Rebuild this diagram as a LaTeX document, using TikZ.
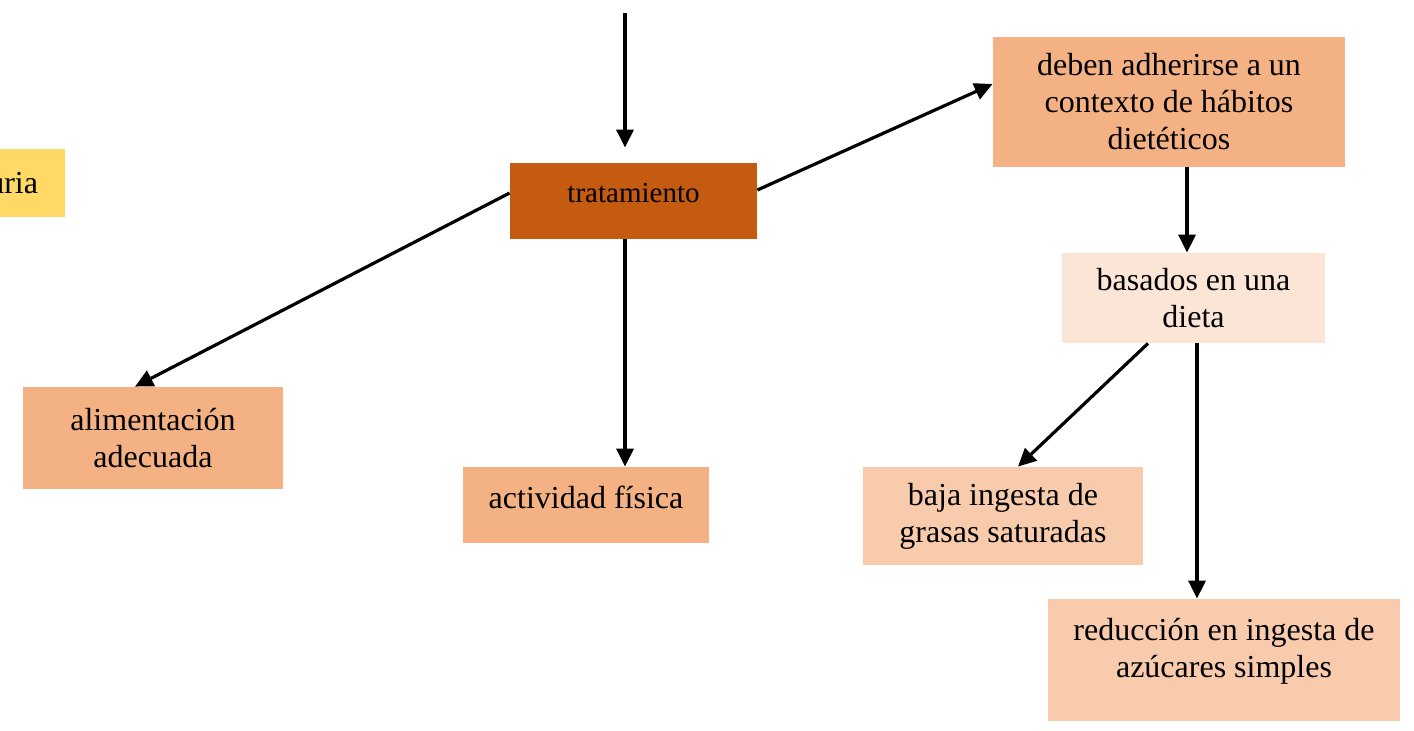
\documentclass[tikz,border=0pt]{standalone}
\usepackage{fontspec}
\setmainfont{Liberation Serif}
\usetikzlibrary{arrows.meta}

\definecolor{oscuro}{HTML}{C55A11}
\definecolor{medio}{HTML}{F4B183}
\definecolor{claro}{HTML}{F8CBAD}
\definecolor{palido}{HTML}{FBE5D6}
\definecolor{amarillo}{HTML}{FFD966}

\tikzset{
  caja/.style={rectangle, inner sep=0pt, align=center,
    font=\fontsize{16}{18.5}\selectfont},
  flecha/.style={-{Triangle[length=9pt,width=8.5pt]}, line width=1.6pt}
}

\begin{document}
\begin{tikzpicture}[x=0.5pt, y=-0.5pt]
  \useasboundingbox (0,0) rectangle (1414,730);

  \node[caja, fill=amarillo, minimum height=34pt, text width=60pt,
        align=right, inner xsep=13.5pt] (cond)   at (-22,183)   {uria};
  \node[caja, fill=oscuro, minimum width=123.5pt, minimum height=38pt, text depth=8pt,
        font=\fontsize{14.5}{17}\selectfont] (trat) at (633.5,201) {tratamiento};
  \node[caja, fill=medio, minimum width=176pt, minimum height=65pt]
        (deben)  at (1169,102)   {deben adherirse a un\\contexto de hábitos\\dietéticos};
  \node[caja, fill=palido, minimum width=131.5pt, minimum height=45pt]
        (dieta)  at (1193.5,298) {basados en una\\dieta};
  \node[caja, fill=medio, minimum width=130pt, minimum height=51pt]
        (alim)   at (153,438)    {alimentación\\adecuada};
  \node[caja, fill=medio, minimum width=123pt, minimum height=38pt, text depth=8pt]
        (activ)  at (586,505)    {actividad física};
  \node[caja, fill=claro, minimum width=140pt, minimum height=49pt]
        (grasas) at (1003,516)   {baja ingesta de\\grasas saturadas};
  \node[caja, fill=claro, minimum width=176pt, minimum height=61pt]
        (azucar) at (1224,660)   {reducción en ingesta de\\azúcares simples\\[-6.5pt]};

  \coordinate (entrada) at (625,13);

  \path[flecha]
    (entrada)                  edge ([xshift=-4.25pt,yshift=7.5pt]trat.north)
    ([yshift=5.5pt]trat.east)  edge ([yshift=9pt]deben.west)
    ([yshift=4pt]trat.west)    edge ([xshift=-9pt]alim.north)
    ([xshift=-4.25pt]trat.south) edge ([xshift=19.5pt]activ.north)
    ([xshift=9pt]deben.south)  edge ([xshift=-3.25pt]dieta.north)
    ([xshift=-22.75pt]dieta.south) edge ([xshift=7.5pt]grasas.north)
    ([xshift=1.75pt]dieta.south) edge ([xshift=-13.5pt]azucar.north);
\end{tikzpicture}
\end{document}
